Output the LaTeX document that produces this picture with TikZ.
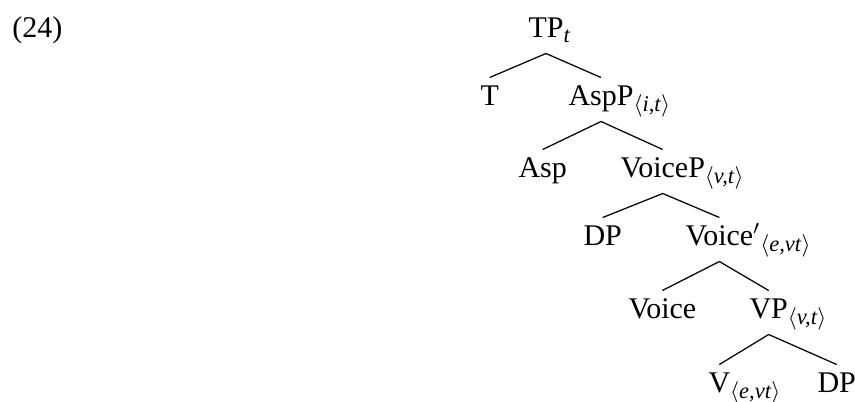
\documentclass[tikz,border=0pt]{standalone}
\usepackage{fontspec}
\setmainfont{Liberation Serif}
\usetikzlibrary{positioning}

\newcommand{\tsub}[2][2pt]{\rlap{\raisebox{-#1}{\fontsize{9}{10}\selectfont #2}}}
\newcommand{\ang}[1]{\tsub[2.6pt]{$\langle$\textit{#1}$\rangle$}}

\begin{document}
\begin{tikzpicture}[x=0.4pt,y=-0.4pt,
  lbl/.style={anchor=base west,inner sep=0pt,text height=10.8pt,text depth=6.4pt,font=\fontsize{12}{14}\selectfont},
  every edge/.style={draw,line width=0.5pt}]
\useasboundingbox (0,0) rectangle (855,401);
\node[lbl](ex) at (12,37){(24)};
\node[lbl](TP) at (528,37){TP\tsub{\textit{t}}};
\node[lbl](T) at (480,105){T};
\node[lbl](AspP) at (568,105){AspP\ang{i,t}};
\node[lbl](Asp) at (518,177){Asp};
\node[lbl](VoiceP) at (620,177){VoiceP\ang{v,t}};
\node[lbl](DPa) at (583,245){DP};
\node[lbl](Voicebar) at (685,245){Voice\rlap{$'$\ang{e,vt}}};
\node[lbl](Voice) at (628,318){Voice};
\node[lbl](VP) at (749,318){VP\ang{v,t}};
\node[lbl](V) at (708,392){V\ang{e,vt}};
\node[lbl](DPb) at (817,392){DP};

\path
(TP.south) edge (T.north)
(TP.south) edge (AspP.north)
(AspP.south) edge (Asp.north)
(AspP.south) edge (VoiceP.north)
(VoiceP.south) edge (DPa.north)
(VoiceP.south) edge (Voicebar.north)
(Voicebar.south) edge (Voice.north)
(Voicebar.south) edge (VP.north)
(VP.south) edge (V.north)
(VP.south) edge (DPb.north);
\end{tikzpicture}
\end{document}
